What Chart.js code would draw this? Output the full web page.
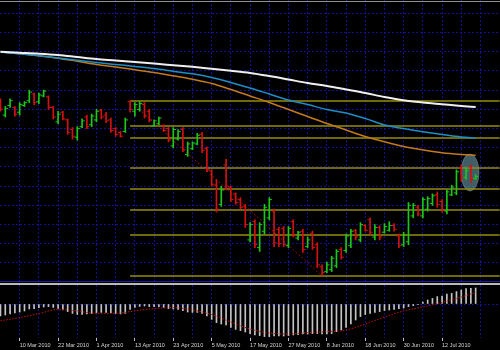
<!DOCTYPE html>
<html>
<head>
<meta charset="utf-8">
<script src="https://cdn.jsdelivr.net/npm/chart.js@4.4.0/dist/chart.umd.min.js"></script>
<style>
  html, body { margin: 0; padding: 0; background: #000; }
  #wrap { position: relative; width: 500px; height: 350px; background: #000; overflow: hidden; }
  #main { position: absolute; left: 0; top: 0; }
  #ind { position: absolute; left: 0; top: 285px; }
  .topline { position: absolute; left: 0; top: 1px; width: 500px; height: 1px; background: #8e8e8e; }
  .sep { position: absolute; left: 0; top: 283px; width: 500px; height: 2px; background: #b9b9b9; }
</style>
</head>
<body>
<div id="wrap">
  <canvas id="main" width="500" height="282"></canvas>
  <div class="topline"></div>
  <div class="sep"></div>
  <canvas id="ind" width="500" height="65"></canvas>
</div>
<script>
// дневные бары EURUSD, индекс бара = позиция по оси X
const opens = [
  1.369,1.354,1.364,1.362,1.357,1.364,1.369,1.376,1.368,1.374,
  1.373,1.362,1.347,1.357,1.349,1.339,1.331,1.342,1.352,1.344,
  1.349,1.359,1.354,1.349,1.340,1.336,1.337,1.368,1.358,1.360,
  1.365,1.358,1.343,1.345,1.343,1.340,1.322,1.329,1.339,1.313,
  1.319,1.324,1.334,1.319,1.296,1.281,1.261,1.302,1.279,1.272,
  1.266,1.259,1.224,1.243,1.216,1.233,1.247,1.254,1.235,1.236,
  1.218,1.243,1.226,1.233,1.217,1.231,1.219,1.196,1.191,1.193,
  1.197,1.214,1.213,1.218,1.234,1.224,1.239,1.245,1.227,1.237,
  1.232,1.234,1.239,1.228,1.219,1.222,1.249,1.258,1.249,1.256,
  1.262,1.271,1.264,1.254,1.271,1.273,1.299,1.289,1.300,1.288
];
const highs = [
  1.371,1.363,1.371,1.363,1.367,1.368,1.380,1.377,1.377,1.380,
  1.374,1.363,1.358,1.358,1.350,1.341,1.342,1.350,1.354,1.355,
  1.360,1.360,1.357,1.351,1.341,1.337,1.351,1.369,1.367,1.368,
  1.367,1.360,1.349,1.352,1.344,1.341,1.341,1.339,1.341,1.326,
  1.326,1.335,1.336,1.321,1.297,1.287,1.280,1.308,1.280,1.273,
  1.268,1.261,1.242,1.245,1.242,1.261,1.268,1.256,1.237,1.238,
  1.238,1.245,1.233,1.235,1.227,1.233,1.221,1.198,1.201,1.207,
  1.214,1.216,1.230,1.235,1.235,1.242,1.240,1.247,1.240,1.239,
  1.241,1.243,1.241,1.230,1.232,1.263,1.262,1.260,1.268,1.269,
  1.272,1.274,1.266,1.276,1.281,1.297,1.302,1.299,1.302,1.292
];
const lows = [
  1.358,1.352,1.362,1.353,1.354,1.363,1.367,1.365,1.366,1.373,
  1.360,1.350,1.345,1.349,1.334,1.329,1.328,1.341,1.340,1.342,
  1.347,1.350,1.346,1.336,1.332,1.331,1.336,1.357,1.353,1.358,
  1.351,1.347,1.342,1.344,1.337,1.326,1.320,1.328,1.316,1.311,
  1.318,1.323,1.315,1.295,1.280,1.253,1.259,1.276,1.264,1.261,
  1.256,1.237,1.222,1.216,1.212,1.230,1.245,1.217,1.217,1.217,
  1.216,1.227,1.224,1.211,1.216,1.214,1.195,1.187,1.190,1.191,
  1.195,1.204,1.211,1.216,1.224,1.222,1.233,1.230,1.224,1.224,
  1.231,1.233,1.233,1.216,1.217,1.219,1.247,1.249,1.247,1.254,
  1.260,1.258,1.253,1.251,1.270,1.271,1.285,1.287,1.284,1.287
];
const closes = [
  1.360,1.361,1.369,1.355,1.365,1.367,1.378,1.367,1.375,1.379,
  1.362,1.352,1.355,1.350,1.336,1.332,1.340,1.348,1.342,1.353,
  1.358,1.352,1.348,1.338,1.334,1.332,1.349,1.360,1.365,1.366,
  1.353,1.349,1.348,1.351,1.338,1.328,1.339,1.337,1.318,1.324,
  1.325,1.333,1.317,1.297,1.282,1.256,1.276,1.280,1.266,1.263,
  1.258,1.240,1.240,1.219,1.240,1.258,1.266,1.221,1.220,1.219,
  1.236,1.229,1.232,1.214,1.224,1.216,1.198,1.190,1.198,1.205,
  1.212,1.206,1.228,1.233,1.227,1.240,1.234,1.232,1.237,1.227,
  1.238,1.239,1.235,1.218,1.229,1.260,1.260,1.251,1.266,1.267,
  1.270,1.261,1.255,1.274,1.279,1.295,1.289,1.296,1.287,1.290
];

const maIdx = [0,4,8,12,16,20,24,28,32,36,40,44,48,52,56,60,64,68,72,76,80,84,88,92,96,99];
const maSlow = [1.4200,1.4190,1.4180,1.4166,1.4145,1.4124,1.4109,1.4093,1.4077,1.4060,1.4043,1.4023,1.4002,
                1.3979,1.3947,1.3911,1.3874,1.3843,1.3807,1.3770,1.3729,1.3694,1.3671,1.3653,1.3635,1.3624];
const maMid = [1.4197,1.4178,1.4158,1.4136,1.4112,1.4088,1.4067,1.4047,1.4025,1.3997,1.3970,1.3932,1.3880,
               1.3822,1.3760,1.3697,1.3650,1.3598,1.3562,1.3505,1.3437,1.3400,1.3367,1.3338,1.3312,1.3301];
const maFast = [1.4197,1.4179,1.4158,1.4133,1.4101,1.4068,1.4041,1.4012,1.3983,1.3949,1.3913,1.3869,1.3807,
                1.3739,1.3671,1.3598,1.3526,1.3453,1.3385,1.3317,1.3262,1.3213,1.3177,1.3147,1.3130,1.3122];

// уровни Фибоначчи (от 12 Apr до 7 Jun)
const fibStart = 27;
const fibEnd = 104;
const fibLevels = [1.3687, 1.3426, 1.3301, 1.2989, 1.2770, 1.2552, 1.2291, 1.1864];
const trendBars = [27, 67];
const trendPrices = [1.3687, 1.1864];

// выделенная область
const markBar = 97.8;
const markPrice = 1.2942;

// MACD
const macdHist = [
  -0.0060,-0.0055,-0.0050,-0.0045,-0.0040,-0.0035,-0.0025,-0.0023,-0.0018,-0.0015,
  -0.0013,-0.0017,-0.0022,-0.0030,-0.0038,-0.0047,-0.0052,-0.0052,-0.0050,-0.0047,
  -0.0043,-0.0042,-0.0042,-0.0043,-0.0047,-0.0050,-0.0047,-0.0027,-0.0017,-0.0012,
  -0.0010,-0.0013,-0.0013,-0.0013,-0.0017,-0.0023,-0.0025,-0.0027,-0.0033,-0.0040,
  -0.0042,-0.0042,-0.0047,-0.0060,-0.0077,-0.0093,-0.0100,-0.0105,-0.0117,-0.0127,
  -0.0133,-0.0140,-0.0148,-0.0155,-0.0158,-0.0163,-0.0163,-0.0160,-0.0160,-0.0160,
  -0.0158,-0.0155,-0.0153,-0.0150,-0.0150,-0.0148,-0.0148,-0.0150,-0.0150,-0.0148,
  -0.0138,-0.0130,-0.0117,-0.0100,-0.0080,-0.0063,-0.0053,-0.0047,-0.0042,-0.0038,
  -0.0033,-0.0030,-0.0027,-0.0023,-0.0020,-0.0013,-0.0008,-0.0003,0.0010,0.0020,
  0.0028,0.0037,0.0040,0.0050,0.0053,0.0062,0.0070,0.0077,0.0078,0.0080
];
const macdSignal = [-0.0084,-0.0068,-0.0048,-0.0027,-0.0035,-0.0047,-0.0047,-0.0034,-0.0023,-0.0018,-0.0030,-0.0053,-0.0090,
                    -0.0125,-0.0145,-0.0150,-0.0143,-0.0138,-0.0130,-0.0100,-0.0065,-0.0035,-0.0015,0.0008,0.0035,0.0057];

// подписи оси времени
const dateIdx = [4,12,20,28,36,44,52,60,68,76,84,92];
const dateLabels = ['10 Mar 2010','22 Mar 2010','1 Apr 2010','13 Apr 2010','23 Apr 2010','5 May 2010',
                    '17 May 2010','27 May 2010','8 Jun 2010','18 Jun 2010','30 Jun 2010','12 Jul 2010'];
const barGrid = [4,8,12,16,20,24,28,32,36,40,44,48,52,56,60,64,68,72,76,80,84,88,92,96,100];
const priceGrid = [1.20,1.22,1.24,1.26,1.28,1.30,1.32,1.34,1.36,1.38,1.40,1.42,1.44,1.46];

const UP = '#1ac81a';
const DOWN = '#d21212';
const GRID = '#12128e';
const FIB = '#948c0c';
const X_MIN = -0.1;
const X_MAX = 104.07;

const barColors = closes.map((c, i) => c >= opens[i] ? UP : DOWN);
const xy = (xs, ys) => ys.map((v, k) => ({x: xs[k], y: v}));

// эллипс-маркер как картинка точки
const mark = document.createElement('canvas');
mark.width = 20;
mark.height = 39;
const mc = mark.getContext('2d');
mc.beginPath();
mc.ellipse(10, 19.5, 9, 18.5, 0, 0, Math.PI * 2);
mc.fillStyle = 'rgba(105,150,165,0.62)';
mc.fill();
mc.strokeStyle = 'rgba(150,185,195,0.45)';
mc.lineWidth = 1;
mc.stroke();

const lineDs = (data, color, width, order) => ({
  type: 'line', data: data, borderColor: color, borderWidth: width,
  pointRadius: 0, cubicInterpolationMode: 'monotone', order: order
});

const fibSets = fibLevels.map(v => ({
  type: 'line', data: [{x: fibStart, y: v}, {x: fibEnd, y: v}],
  borderColor: FIB, borderWidth: 1.5, pointRadius: 0, order: 5
}));

new Chart(document.getElementById('main'), {
  type: 'bar',
  data: {
    datasets: [
      {
        type: 'scatter', data: [{x: markBar, y: markPrice}],
        pointStyle: mark, pointRadius: 10, order: 7
      },
      ...fibSets,
      lineDs(xy(maIdx, maSlow), '#efefef', 2, 3),
      lineDs(xy(maIdx, maMid), '#1e8ec4', 1.5, 3),
      lineDs(xy(maIdx, maFast), '#c47a1c', 1.5, 3),
      {
        type: 'line', data: xy(trendBars, trendPrices), borderColor: '#c01010',
        borderWidth: 1, borderDash: [1.5, 2.5], pointRadius: 0, order: 2
      },
      {
        type: 'bar', data: highs.map((h, i) => ({x: i, y: [lows[i], h]})),
        backgroundColor: barColors, barThickness: 1, borderWidth: 0, order: 1
      },
      {
        type: 'scatter', data: opens.map((o, i) => ({x: i - 0.3, y: o})),
        pointStyle: 'line', pointRadius: 1.2, pointBorderWidth: 1,
        pointBorderColor: barColors, order: 0
      },
      {
        type: 'scatter', data: closes.map((c, i) => ({x: i + 0.3, y: c})),
        pointStyle: 'line', pointRadius: 1.2, pointBorderWidth: 1,
        pointBorderColor: barColors, order: 0
      }
    ]
  },
  options: {
    responsive: false,
    animation: false,
    events: [],
    layout: {padding: 0, autoPadding: false},
    plugins: {legend: {display: false}, tooltip: {enabled: false}},
    scales: {
      x: {
        type: 'linear', min: X_MIN, max: X_MAX, offset: false,
        afterBuildTicks: s => { s.ticks = barGrid.map(v => ({value: v})); },
        afterFit: s => { s.height = 1; },
        ticks: {display: false},
        grid: {color: GRID, drawTicks: false, offset: false},
        border: {display: true, color: '#1c1ca8', width: 1, dash: [2, 2]}
      },
      y: {
        type: 'linear', min: 1.1812, max: 1.4739,
        afterBuildTicks: s => { s.ticks = priceGrid.map(v => ({value: v})); },
        afterFit: s => { s.width = 0; },
        ticks: {display: false},
        grid: {color: GRID, drawTicks: false},
        border: {display: false, dash: [2, 2]}
      }
    }
  }
});

new Chart(document.getElementById('ind'), {
  type: 'bar',
  data: {
    datasets: [
      {
        type: 'line', data: xy(maIdx, macdSignal), borderColor: '#c01010',
        borderWidth: 1, borderDash: [1.5, 1.5], pointRadius: 0,
        cubicInterpolationMode: 'monotone', order: 0
      },
      {
        type: 'bar', data: macdHist.map((v, i) => ({x: i, y: v})),
        backgroundColor: '#c4c4c4', barThickness: 1, borderWidth: 0, order: 1
      }
    ]
  },
  options: {
    responsive: false,
    animation: false,
    events: [],
    layout: {padding: 0, autoPadding: false},
    plugins: {legend: {display: false}, tooltip: {enabled: false}},
    scales: {
      x: {
        type: 'linear', min: X_MIN, max: X_MAX, offset: false,
        afterBuildTicks: s => { s.ticks = barGrid.map(v => ({value: v})); },
        afterFit: s => { s.height = 12; },
        ticks: {
          autoSkip: false, maxRotation: 0, minRotation: 0, align: 'start', padding: 1,
          color: '#d6d6d6',
          font: {family: '"Liberation Sans", Arial, sans-serif', size: 5.5},
          callback: v => {
            const k = dateIdx.indexOf(v);
            return k < 0 ? '' : dateLabels[k];
          }
        },
        grid: {
          color: GRID, offset: false, drawTicks: true, tickLength: 3,
          tickColor: c => (c.tick && dateIdx.includes(c.tick.value)) ? '#bdbdbd' : 'rgba(0,0,0,0)'
        },
        border: {display: false, dash: [2, 2]}
      },
      y: {
        type: 'linear', min: -0.017, max: 0.0095,
        afterBuildTicks: s => { s.ticks = [{value: 0}]; },
        afterFit: s => { s.width = 0; },
        ticks: {display: false},
        grid: {color: GRID, drawTicks: false},
        border: {display: false, dash: [2, 2]}
      }
    }
  }
});
</script>
</body>
</html>
